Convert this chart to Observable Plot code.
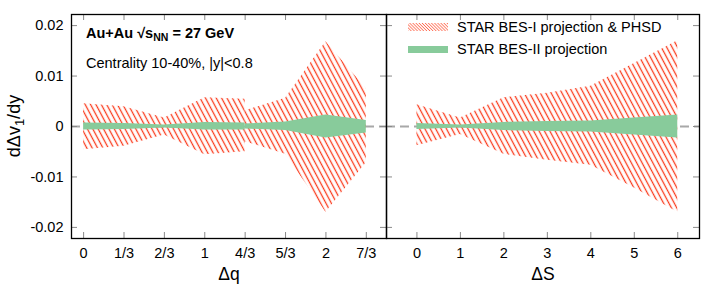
<!DOCTYPE html>
<html><head><meta charset="utf-8">
<script src="https://cdn.jsdelivr.net/npm/d3@7"></script>
<script src="https://cdn.jsdelivr.net/npm/@observablehq/plot@0.6"></script>
<style>
body{margin:0;background:#fff;}
#chart{position:relative;width:714px;height:286px;font-family:"Liberation Sans",Arial,sans-serif;color:#000;overflow:hidden;}
#chart > svg.panel{position:absolute;top:0;}
.ov{position:absolute;white-space:nowrap;line-height:1;}
</style></head><body>
<svg width="0" height="0" style="position:absolute">
<defs>
<pattern id="hatch" patternUnits="userSpaceOnUse" width="4.75" height="20" patternTransform="rotate(-28)">
<line x1="2.4" y1="-5" x2="2.4" y2="25" stroke="#fa3c1e" stroke-width="1.3"/>
</pattern>
<pattern id="hatchSmall" patternUnits="userSpaceOnUse" width="2.2" height="10" patternTransform="rotate(-45)">
<line x1="1.1" y1="-2" x2="1.1" y2="12" stroke="#ff6a50" stroke-width="0.8"/>
</pattern>
</defs></svg>
<div id="chart"></div>
<script>
// ---- tick values and labels ----
const dqTicks = [0, 1/3, 2/3, 1, 4/3, 5/3, 2, 7/3];
const dqTickLabels = ["0", "1/3", "2/3", "1", "4/3", "5/3", "2", "7/3"];
const dSTicks = [0, 1, 2, 3, 4, 5, 6];
const dSTickLabels = ["0", "1", "2", "3", "4", "5", "6"];
const yTicks = [-0.02, -0.01, 0, 0.01, 0.02];
const yTickLabels = ["-0.02", "-0.01", "0", "0.01", "0.02"];

// ---- left panel (Δq), segment A ----
const dqSegA = [0, 1/3, 2/3, 1, 4/3];
const bes1HiA = [0.0045, 0.0039, 0.0017, 0.0057, 0.0054];
const bes1LoA = [-0.0046, -0.0039, -0.0017, -0.0056, -0.0050];
const bes2HiA = [0.0007, 0.0006, 0.0003, 0.0008, 0.0007];
const bes2LoA = [-0.0007, -0.0006, -0.0003, -0.0007, -0.0007];
// ---- left panel (Δq), segment B ----
const dqSegB = [4/3, 5/3, 2, 7/3];
const bes1HiB = [0.0031, 0.0056, 0.0168, 0.0075];
const bes1LoB = [-0.0030, -0.0055, -0.0170, -0.0072];
const bes2HiB = [0.0005, 0.0009, 0.0023, 0.0012];
const bes2LoB = [-0.0005, -0.0008, -0.0023, -0.0013];

// ---- right panel (ΔS) ----
const dS = [0, 1, 2, 3, 4, 5, 6];
const bes1HiS = [0.0043, 0.0017, 0.0057, 0.0066, 0.0080, 0.0125, 0.0170];
const bes1LoS = [-0.0038, -0.0016, -0.0055, -0.0067, -0.0077, -0.0122, -0.0170];
const bes2HiS = [0.0006, 0.0003, 0.0008, 0.0010, 0.0011, 0.0017, 0.0023];
const bes2LoS = [-0.0006, -0.0003, -0.0008, -0.0010, -0.0011, -0.0017, -0.0023];

const legendLabels = ["STAR BES-I projection & PHSD", "STAR BES-II projection"];
const xTitles = ["Δq", "ΔS"];

function rows(xs, hi, lo, seg) { return xs.map((x, i) => ({x, hi: hi[i], lo: lo[i], seg})); }

const leftBes1 = rows(dqSegA, bes1HiA, bes1LoA, "A").concat(rows(dqSegB, bes1HiB, bes1LoB, "B"));
const leftBes2 = rows(dqSegA, bes2HiA, bes2LoA, "A").concat(rows(dqSegB, bes2HiB, bes2LoB, "B"));
const rightBes1 = rows(dS, bes1HiS, bes1LoS, "S");
const rightBes2 = rows(dS, bes2HiS, bes2LoS, "S");

const H = 286, MT = 14, MB = 48;
const FONT = "'Liberation Sans', Arial, sans-serif";

function panel({width, marginLeft, marginRight, domain, ticks, labels, b1, b2, title, yLabels}) {
  const fw = width - marginLeft - marginRight, fh = H - MT - MB;
  const tk = {stroke: "#8a8a8a", strokeWidth: 1};
  const marks = [
    Plot.ruleY([0], {stroke: "#a8a8a8", strokeWidth: 2, strokeDasharray: "9,5"}),
    Plot.areaY(b1, {x: "x", y1: "lo", y2: "hi", z: "seg", fill: "url(#hatch)"}),
    Plot.areaY(b2, {x: "x", y1: "lo", y2: "hi", z: "seg", fill: "#88cb9b"}),
    Plot.tickY(yTicks, {y: d => d, insetRight: fw - 6, ...tk}),
    Plot.tickY(yTicks, {y: d => d, insetLeft: fw - 6, ...tk}),
    Plot.tickX(ticks, {x: d => d, insetTop: fh - 6, ...tk}),
    Plot.tickX(ticks, {x: d => d, insetBottom: fh - 6, ...tk}),
    Plot.frame({stroke: "#000", strokeWidth: 1.3}),
    Plot.axisX({ticks, tickFormat: d => labels[ticks.indexOf(d)], tickSize: 0, tickPadding: 9, fontSize: 14.5, label: null}),
    Plot.text([title], {text: d => d, frameAnchor: "bottom", dy: 36, lineAnchor: "middle", fontSize: 17.5})
  ];
  if (yLabels) marks.push(Plot.axisY({ticks: yTicks, tickFormat: d => yTickLabels[yTicks.indexOf(d)], tickSize: 0, tickPadding: 8, fontSize: 14.5, label: null}));
  const svg = Plot.plot({
    width, height: H, marginLeft, marginRight, marginTop: MT, marginBottom: MB,
    x: {domain, axis: null},
    y: {domain: [-0.0222, 0.0222], axis: null},
    style: {fontFamily: FONT, fontSize: "14.5px", background: "transparent", color: "#000", overflow: "visible"},
    marks
  });
  svg.classList.add("panel");
  return svg;
}

const chart = document.getElementById("chart");
const left = panel({width: 386, marginLeft: 71, marginRight: 0, domain: [-0.1, 2.5], ticks: dqTicks, labels: dqTickLabels, b1: leftBes1, b2: leftBes2, title: xTitles[0], yLabels: true});
left.style.left = "0px";
const right = panel({width: 328, marginLeft: 0, marginRight: 15, domain: [-0.7, 6.5], ticks: dSTicks, labels: dSTickLabels, b1: rightBes1, b2: rightBes2, title: xTitles[1], yLabels: false});
right.style.left = "386px";
chart.appendChild(left);
chart.appendChild(right);

function ov(html, css) {
  const d = document.createElement("div");
  d.className = "ov";
  d.innerHTML = html;
  Object.assign(d.style, css);
  chart.appendChild(d);
  return d;
}
// annotations
ov('Au+Au &radic;s<span style="font-size:10.5px;position:relative;top:3px">NN</span> = 27 GeV', {left: "86px", top: "26px", fontSize: "14.5px", fontWeight: "bold"});
ov('Centrality 10-40%, |y|&lt;0.8', {left: "86px", top: "55.5px", fontSize: "14.5px"});
// y title
ov('d&Delta;v<span style="font-size:13px;position:relative;top:4px">1</span>/dy', {left: "-36px", top: "117px", width: "100px", textAlign: "center", fontSize: "18px", transform: "rotate(-90deg)", transformOrigin: "50% 50%"});
// legend
const sw1 = document.createElementNS("http://www.w3.org/2000/svg", "svg");
sw1.setAttribute("width", "40"); sw1.setAttribute("height", "8");
sw1.innerHTML = '<rect x="0" y="0" width="40" height="8" fill="url(#hatchSmall)"/>';
Object.assign(sw1.style, {position: "absolute", left: "408px", top: "23px"});
chart.appendChild(sw1);
const sw2 = document.createElementNS("http://www.w3.org/2000/svg", "svg");
sw2.setAttribute("width", "40"); sw2.setAttribute("height", "7");
sw2.innerHTML = '<rect x="0" y="0" width="40" height="7" fill="#88cb9b"/>';
Object.assign(sw2.style, {position: "absolute", left: "408px", top: "46px"});
chart.appendChild(sw2);
ov(legendLabels[0], {left: "457px", top: "19.5px", fontSize: "14.5px"});
ov(legendLabels[1], {left: "457px", top: "41.8px", fontSize: "14.5px"});
</script>
</body></html>
